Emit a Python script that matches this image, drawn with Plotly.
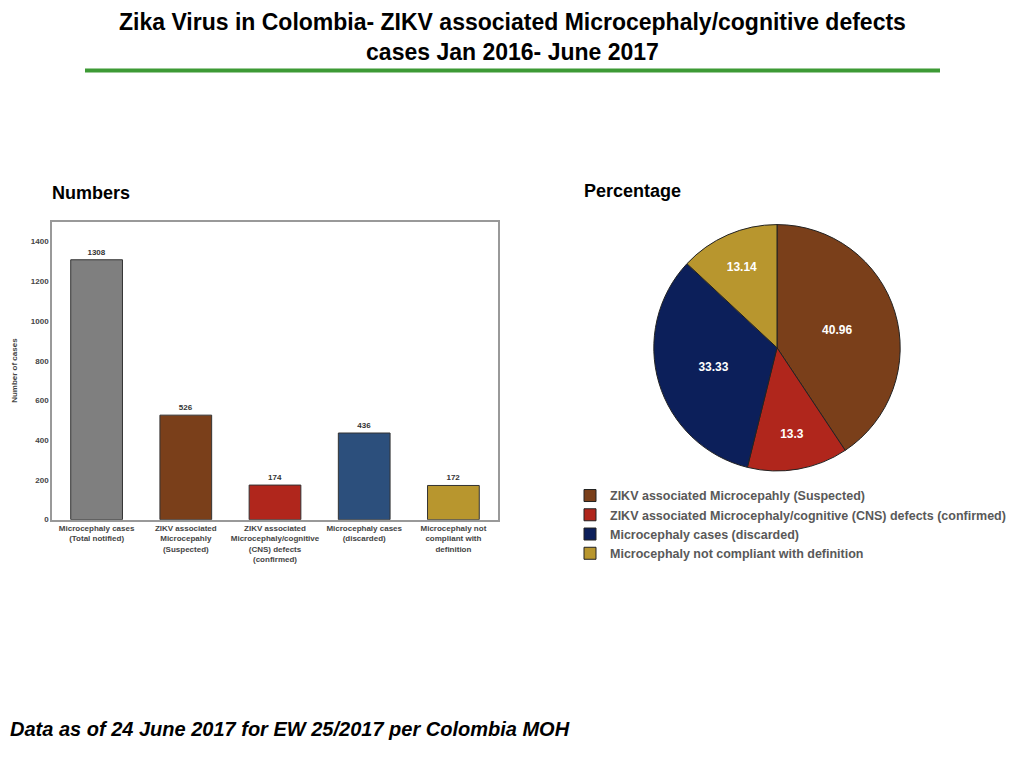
import plotly.graph_objects as go

W, H = 1024, 768

bar_labels = ["Microcephaly cases<br>(Total notified)", "ZIKV associated<br>Microcepahly<br>(Suspected)",
              "ZIKV associated<br>Microcephaly/cognitive<br>(CNS) defects<br>(confirmed)",
              "Microcephaly cases<br>(discarded)", "Microcephaly not<br>compliant with<br>definition"]
bar_values = [1308, 526, 174, 436, 172]
bar_colors = ["#7f7f7f", "#7a3f1a", "#b0261c", "#2c4f7c", "#b8962e"]

pie_labels = ["<b>ZIKV associated Microcepahly (Suspected)</b>",
              "<b>ZIKV associated Microcephaly/cognitive (CNS) defects (confirmed)</b>",
              "<b>Microcephaly cases (discarded)</b>",
              "<b>Microcephaly not compliant with definition</b>"]
pie_values = [40.96, 13.3, 33.33, 13.14]
pie_colors = ["#7a3f1a", "#b0261c", "#0c1f5a", "#b8962e"]

FONT = "Liberation Sans, Arial, sans-serif"

# page renders with ~8px offset; compensate
def px(x):
    return (x - 8) / W

def py(y):
    return 1 - (y - 7) / H

fig = go.Figure()

fig.add_trace(go.Bar(
    x=bar_labels, y=bar_values, marker=dict(color=bar_colors, line=dict(color="#333333", width=1)),
    width=0.58, text=[f"<b>{v}</b>" for v in bar_values], textposition="outside", cliponaxis=False,
    textfont=dict(size=8, color="#333333", family=FONT), showlegend=False,
))

fig.add_trace(go.Pie(
    labels=pie_labels, values=pie_values, sort=False, direction="clockwise", rotation=0,
    marker=dict(colors=pie_colors, line=dict(color="#222222", width=1)),
    texttemplate="<b>%{value}</b>", insidetextorientation="horizontal",
    textfont=dict(size=12, color="white", family=FONT),
    domain=dict(x=[px(653), px(901)], y=[py(473), py(225)]),
))

def note(text, x, y, size, xanchor="left"):
    return dict(text=text, x=px(x), y=py(y), xref="paper", yref="paper", showarrow=False,
                xanchor=xanchor, yanchor="middle", font=dict(size=size, color="black"))

fig.update_layout(
    width=W, height=H, margin=dict(l=0, r=0, t=0, b=0),
    paper_bgcolor="white", plot_bgcolor="white",
    font=dict(family=FONT),
    bargap=0.4,
    xaxis=dict(domain=[px(52), px(498)], showline=True, linecolor="#999999", linewidth=1.5, mirror=True,
               tickfont=dict(size=8, color="#444444"), ticks="",
               tickvals=bar_labels, ticktext=[f"<b>{l}</b>" for l in bar_labels]),
    yaxis=dict(domain=[py(522), py(222)], range=[0, 1500], tickvals=[0, 200, 400, 600, 800, 1000, 1200, 1400],
               ticktext=[f"<b>{v}</b>" for v in [0, 200, 400, 600, 800, 1000, 1200, 1400]],
               showgrid=False, zeroline=False,
               showline=True, linecolor="#999999", linewidth=1.5, mirror=True, ticks="",
               tickfont=dict(size=8, color="#444444"),
               title=dict(text="<b>Number of cases</b>", font=dict(size=8, color="#444444"), standoff=12)),
    legend=dict(x=px(570), y=py(483), xanchor="left", yanchor="top", tracegroupgap=0,
                font=dict(size=12.5, color="#595959", family=FONT), itemwidth=30,
                bgcolor="rgba(0,0,0,0)"),
    annotations=[
        note("<b>Zika Virus in Colombia- ZIKV associated Microcephaly/cognitive defects<br>cases Jan 2016- June 2017</b>",
             512, 36, 23, xanchor="center"),
        note("<b>Numbers</b>", 50, 193, 18),
        note("<b>Percentage</b>", 582, 191, 18),
        note("<b><i>Data as of 24 June 2017 for EW 25/2017 per Colombia MOH</i></b>", 8, 733, 20),
    ],
    shapes=[dict(type="line", xref="paper", yref="paper", x0=px(85), x1=px(940), y0=py(70), y1=py(70),
                 line=dict(color="#3d9a35", width=4))],
)

fig.write_html("out.html")
